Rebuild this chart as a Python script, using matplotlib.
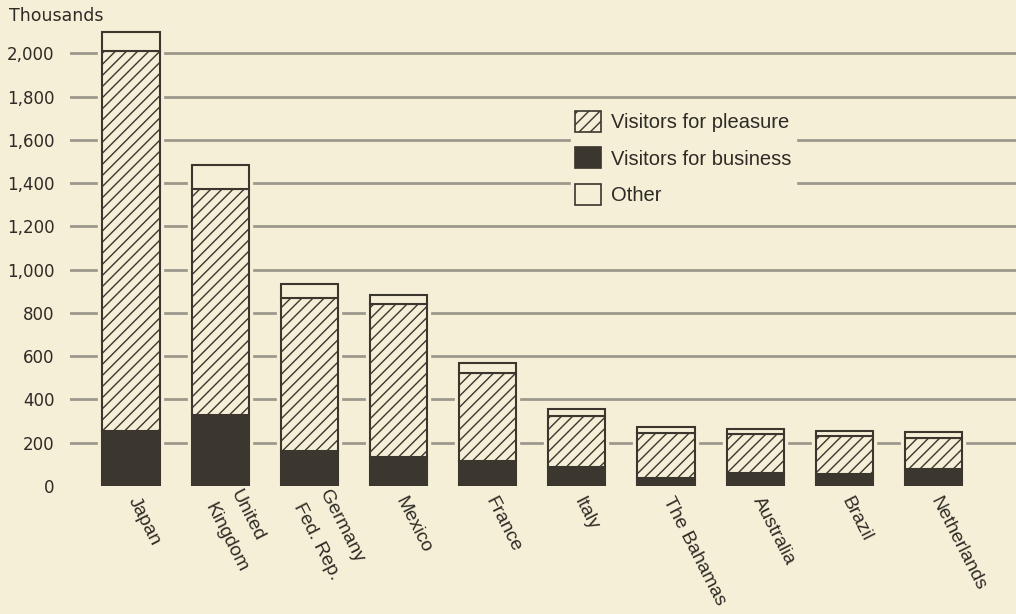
import matplotlib
matplotlib.use("Agg")
import matplotlib.pyplot as plt
import numpy as np
from matplotlib.patches import Patch

countries = ["Japan", "United\nKingdom", "Germany\nFed. Rep.", "Mexico", "France",
             "Italy", "The Bahamas", "Australia", "Brazil", "Netherlands"]
business = [255, 330, 160, 135, 115, 90, 35, 62, 55, 78]
pleasure = [1755, 1045, 710, 705, 405, 235, 210, 178, 177, 145]
other = [90, 110, 65, 45, 50, 30, 30, 25, 20, 25]
yticks = [0, 200, 400, 600, 800, 1000, 1200, 1400, 1600, 1800, 2000]

BG = "#f4efd6"
DARK = "#3b362e"
GRID = "#9c988c"
TXT = "#2e2a25"

plt.rcParams["font.family"] = ["Liberation Sans", "DejaVu Sans"]
plt.rcParams["hatch.linewidth"] = 1.0
plt.rcParams["hatch.color"] = DARK

fig = plt.figure(figsize=(10.16, 6.14), dpi=100, facecolor=BG)
ax = fig.add_axes([70 / 1016, 1 - 486 / 614, 1 - 70 / 1016, (486 - 10) / 614])
ax.set_facecolor(BG)

x = np.arange(len(countries))
w = 0.64
b = np.array(business)
p = np.array(pleasure)
o = np.array(other)
tot = b + p + o

# gridlines (no line at 0)
for yv in yticks[1:]:
    ax.axhline(yv, color=GRID, lw=2.0, zorder=1)

# background halo to interrupt gridlines near bars
ax.bar(x, tot, w, color=BG, edgecolor=BG, lw=6, zorder=2)

ax.bar(x, b, w, color=DARK, edgecolor=DARK, lw=1.5, zorder=3)
ax.bar(x, p, w, bottom=b, color=BG, edgecolor=DARK, hatch="///", lw=1.5, zorder=3)
ax.bar(x, o, w, bottom=b + p, color=BG, edgecolor=DARK, lw=1.5, zorder=3)

ax.set_xlim(-0.684, 9.925)
ax.set_ylim(0, 2200)
for s in ax.spines.values():
    s.set_visible(False)
ax.set_yticks(yticks)
ax.set_yticklabels([f"{v:,}" for v in yticks], fontsize=12, color=TXT,
                   family=["DejaVu Sans"])
ax.tick_params(axis="y", length=0, pad=11)
ax.set_xticks([])

for i, lab in enumerate(countries):
    ax.text(i + 0.015, -55, lab, rotation=-63, rotation_mode="anchor",
            ha="left", va="center", fontsize=13.8, color=TXT,
            linespacing=1.9, clip_on=False)

fig.text(9 / 1016, 1 - 16 / 614, "Thousands", fontsize=12.5, color=TXT,
         ha="left", va="center", family=["DejaVu Sans"])

handles = [
    Patch(facecolor=BG, edgecolor=DARK, hatch="///", lw=1.2, label="Visitors for pleasure"),
    Patch(facecolor=DARK, edgecolor=DARK, lw=1.2, label="Visitors for business"),
    Patch(facecolor=BG, edgecolor=DARK, lw=1.2, label="Other"),
]
leg = fig.legend(handles=handles, loc="upper left",
                 bbox_to_anchor=(571 / 1016, 1 - 107 / 614),
                 bbox_transform=fig.transFigure,
                 frameon=True, facecolor=BG, edgecolor=BG, framealpha=1,
                 fontsize=14.5, handlelength=1.3, handleheight=1.2,
                 labelspacing=0.76, handletextpad=0.5, borderpad=0.2,
                 borderaxespad=0, fancybox=False)
for t in leg.get_texts():
    t.set_color(TXT)

fig.savefig("out.png", dpi=100, facecolor=BG)
